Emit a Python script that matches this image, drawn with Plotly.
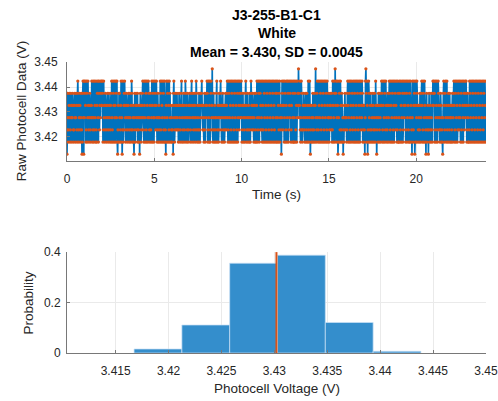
import numpy as np
import plotly.graph_objects as go

# ---- data ----
# quantised voltage levels seen in the raw trace (V)
levels_v = [3.41309, 3.41797, 3.42285, 3.42773, 3.43262, 3.43750, 3.44238, 3.44727]
sample_period_s = 0.02
# level index of every sample, 50 samples (1 s) per row
level_codes = [
    "02531 24531 25431 35421 24531 35421 56421 35421 35201 56306",
    "35641 26513 64213 54213 46312 63126 43162 14563 16524 63546",
    "46512 63412 54312 45312 54312 45163 21654 16341 65361 02415",
    "53124 61302 61245 64312 54312 45312 53142 65123 41035 21453",
    "42513 21403 54123 45632 16431 65216 43165 32145 21364 15631",
    "34652 46312 53142 31652 16431 65216 31204 61356 14261 53412",
    "31240 56312 45324 53241 25431 24561 34215 43216 53412 53124",
    "45312 45613 54213 54213 65214 32154 21354 56432 42135 21453",
    "46512 63146 12563 47213 52143 21356 12431 25435 64213 45124",
    "31245 32456 31265 13641 26513 64126 51364 12651 36425 63456",
    "31245 13421 35641 23512 43152 13654 23542 13451 25146 31265",
    "31652 46321 64216 53164 21653 16421 65316 42165 31642 16531",
    "65136 41256 13420 36542 64136 51246 13651 26435 61246 13561",
    "13651 26413 65475 34621 36521 24354 21345 12531 46213 64021",
    "43125 31245 14731 25631 26413 65126 41365 12641 36512 64135",
    "31245 43251 26413 65174 56136 40136 51264 12541 30213 45234",
    "31256 41365 12641 36521 46315 62146 31562 14631 56243 65124",
    "41203 67516 40216 53124 51243 15421 35216 43024 13541 25314",
    "46512 64136 51264 31245 13465 12641 36512 64136 52463 12651",
    "13651 26413 65126 43564 12651 36421 65136 41203 61246 50146",
    "13654 12431 25413 56412 65136 41203 51243 02513 42153 21465",
    "46512 63146 21365 42312 54132 10356 41256 31462 13541 25314",
    "31245 13564 12651 36412 65326 43165 21643 16524 63564 12531",
    "41265 13641 26513 64126 51364 12651 36412 65136 41265 13641",
]
# histogram of photocell voltage
bin_edges_v = [3.41674, 3.42126, 3.42578, 3.43030, 3.43482, 3.43934, 3.44386]
probability = [0.0158, 0.111, 0.356, 0.388, 0.121, 0.0066]
mean_v = 3.4302
title_lines = ["J3-255-B1-C1", "White", "Mean = 3.430, SD = 0.0045"]
time_ticks = [0, 5, 10, 15, 20]
raw_ticks = [3.42, 3.43, 3.44, 3.45]
volt_ticks = [3.415, 3.42, 3.425, 3.43, 3.435, 3.44, 3.445, 3.45]
prob_ticks = [0, 0.2, 0.4]

# ---- build series ----
codes = "".join(level_codes).replace(" ", "")
raw_v = np.array([levels_v[int(c)] for c in codes])
time_s = np.arange(len(raw_v)) * sample_period_s
edges = np.array(bin_edges_v)
centers = (edges[:-1] + edges[1:]) / 2
widths = np.diff(edges)

BLUE = "rgb(0,114,189)"
ORANGE = "rgb(217,83,25)"
FONT = "Liberation Sans, Arial, sans-serif"
TICKC = "rgb(38,38,38)"
GRID = "rgb(234,234,234)"
AXC = "rgb(120,120,120)"

fig = go.Figure()
fig.add_trace(go.Scatter(
    x=time_s, y=raw_v, mode="lines+markers",
    line=dict(color=BLUE, width=1.7, simplify=False),
    marker=dict(color=ORANGE, size=3.2, line=dict(width=0)),
    xaxis="x", yaxis="y", showlegend=False, hoverinfo="skip"))
fig.add_trace(go.Bar(
    x=centers, y=probability, width=widths,
    marker=dict(color="rgb(52,142,204)", line=dict(color="rgba(200,225,245,0.9)", width=0.8)),
    xaxis="x2", yaxis="y2", showlegend=False, hoverinfo="skip"))

common = dict(showgrid=True, gridcolor=GRID, gridwidth=1, zeroline=False,
              showline=True, linecolor=AXC, linewidth=1, ticks="inside",
              ticklen=3, tickcolor=AXC, tickfont=dict(family=FONT, size=12, color=TICKC),
              mirror=False, automargin=False)

fig.update_layout(
    width=498, height=401,
    margin=dict(l=67, r=12, t=62, b=48, autoexpand=False),
    paper_bgcolor="white", plot_bgcolor="white",
    bargap=0,
    xaxis=dict(domain=[0, 1], anchor="y", range=[0, 24.0],
               tickvals=time_ticks, ticktext=[str(v) for v in time_ticks],
               ticklabelstandoff=7, **common),
    yaxis=dict(domain=[0.660, 1], anchor="x", range=[3.4104, 3.45001],
               tickvals=raw_ticks, ticktext=[f"{v:.2f}" for v in raw_ticks],
               ticklabelstandoff=6, **common),
    xaxis2=dict(domain=[0, 1], anchor="y2", range=[3.4104, 3.45001],
                tickvals=volt_ticks, ticktext=[f"{v:g}" for v in volt_ticks],
                ticklabelstandoff=7, **common),
    yaxis2=dict(domain=[0, 0.3467], anchor="x2", range=[0, 0.4],
                tickvals=prob_ticks, ticktext=[f"{v:g}" for v in prob_ticks],
                ticklabelstandoff=3, **common),
    shapes=[dict(type="line", xref="x2", yref="y2", x0=mean_v, x1=mean_v, y0=0, y1=0.4,
                 line=dict(color=ORANGE, width=2))],
)

anns = []
for txt, ypx in zip(title_lines, [15, 33, 52]):
    anns.append(dict(text=f"<b>{txt}</b>", xref="paper", yref="paper",
                     x=0.5, y=(353.3 - ypx) / 291.3, xanchor="center", yanchor="middle",
                     showarrow=False, font=dict(family=FONT, size=14, color="black")))
anns.append(dict(text="Time (s)", xref="paper", yref="paper", x=0.5, y=(353.3 - 195) / 291.3,
                 xanchor="center", yanchor="middle", showarrow=False,
                 font=dict(family=FONT, size=13.5, color=TICKC)))
anns.append(dict(text="Raw Photocell Data (V)", xref="paper", yref="paper",
                 x=(22 - 67.3) / 419, y=(353.3 - 111.5) / 291.3, textangle=-90,
                 xanchor="center", yanchor="middle", showarrow=False,
                 font=dict(family=FONT, size=13.5, color=TICKC)))
anns.append(dict(text="Probability", xref="paper", yref="paper",
                 x=(29 - 67.3) / 419, y=(353.3 - 303) / 291.3, textangle=-90,
                 xanchor="center", yanchor="middle", showarrow=False,
                 font=dict(family=FONT, size=13.5, color=TICKC)))
anns.append(dict(text="Photocell Voltage (V)", xref="paper", yref="paper",
                 x=(276.5 - 67) / 419, y=(353.3 - 389) / 291.3,
                 xanchor="center", yanchor="middle", showarrow=False,
                 font=dict(family=FONT, size=13.5, color=TICKC)))
fig.update_layout(annotations=anns)

fig.write_html("out.html", config={"displayModeBar": False, "staticPlot": True},
               post_script="document.body.style.margin='0px';document.body.style.overflow='hidden';")
